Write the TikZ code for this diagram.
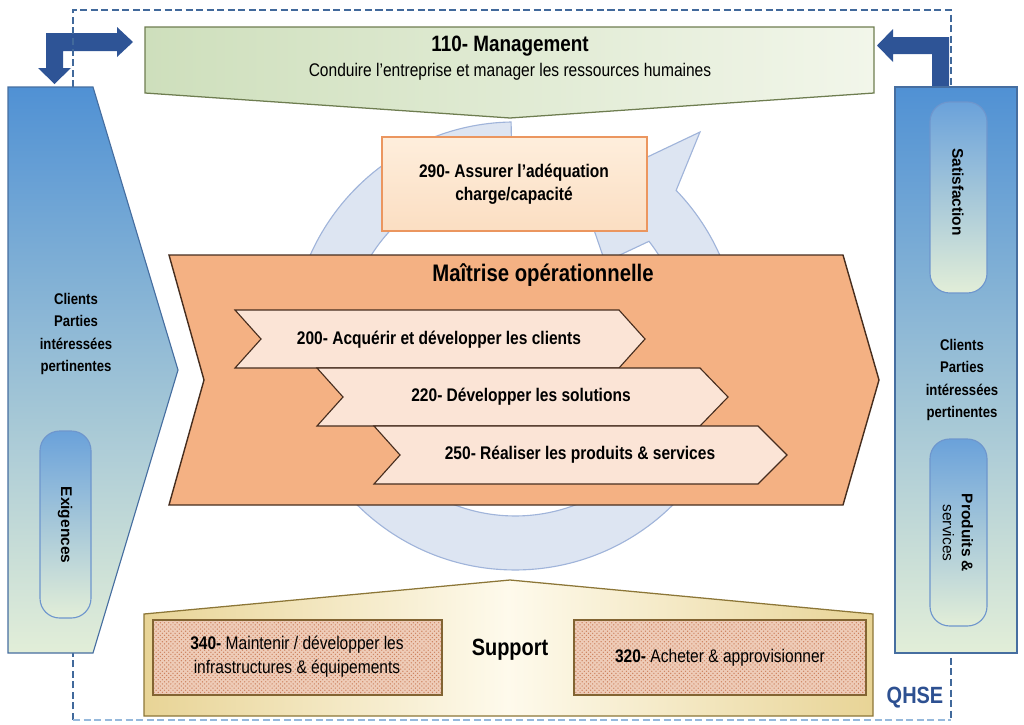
\documentclass[tikz,border=0pt]{standalone}
\usepackage{fontspec}
\setmainfont{Liberation Sans}[FakeStretch=0.85]
\newfontfamily\capsfont{Liberation Sans}
\usetikzlibrary{patterns}

\definecolor{arrowblue}{RGB}{46,84,150}
\definecolor{framedark}{RGB}{65,105,155}
\definecolor{framelight}{RGB}{150,185,220}
\definecolor{panelblue}{RGB}{80,145,212}
\definecolor{panelpale}{RGB}{226,238,216}
\definecolor{panelline}{RGB}{70,110,160}
\definecolor{capline}{RGB}{110,150,205}
\definecolor{mgmtdark}{RGB}{206,223,188}
\definecolor{mgmtlight}{RGB}{242,246,234}
\definecolor{mgmtline}{RGB}{110,125,80}
\definecolor{ringfill}{RGB}{221,229,242}
\definecolor{ringline}{RGB}{160,180,218}
\definecolor{opfill}{RGB}{244,177,131}
\definecolor{opline}{RGB}{70,45,30}
\definecolor{stepfill}{RGB}{251,228,214}
\definecolor{chargetop}{RGB}{254,238,220}
\definecolor{chargebot}{RGB}{251,222,194}
\definecolor{chargeline}{RGB}{235,150,95}
\definecolor{supdark}{RGB}{232,212,150}
\definecolor{suplight}{RGB}{254,250,236}
\definecolor{supline}{RGB}{140,118,55}
\definecolor{dotfill}{RGB}{238,204,184}
\definecolor{dotcolor}{RGB}{204,128,92}
\definecolor{dotline}{RGB}{130,100,50}
\definecolor{qhseblue}{RGB}{45,80,145}

\tikzset{
  blockarrow/.style={fill=arrowblue},
  framedash/.style={dash pattern=on 5pt off 2.5pt, line width=1.1pt},
  ringarrow/.style={fill=ringfill, draw=ringline, line width=0.8pt},
  mgmt/.style={left color=mgmtdark, right color=mgmtlight, draw=mgmtline, line width=0.9pt},
  panel/.style={top color=panelblue, bottom color=panelpale, draw=panelline, line width=0.8pt},
  capsule/.style={top color=panelblue!85!white, bottom color=panelpale, draw=capline,
    line width=0.8pt, rounded corners=14pt},
  chargebox/.style={top color=chargetop, bottom color=chargebot, draw=chargeline, line width=0.8pt},
  opchevron/.style={fill=opfill, draw=opline, line width=1pt},
  stepchevron/.style={fill=stepfill, draw=opline, line width=0.8pt},
  support/.style={left color=supdark, right color=supdark, middle color=suplight,
    draw=supline, line width=0.9pt},
  dotbox/.style={preaction={fill=dotfill}, pattern=crosshatch dots, pattern color=dotcolor,
    draw=dotline, line width=0.8pt},
  mgmttitle/.style={font=\bfseries\fontsize{15.8}{18}\selectfont},
  mgmtsub/.style={font=\fontsize{13}{15}\selectfont},
  optitle/.style={font=\bfseries\fontsize{17}{20}\selectfont},
  steptext/.style={font=\bfseries\fontsize{13}{15}\selectfont},
  chargetext/.style={font=\bfseries\fontsize{13}{16.3}\selectfont, align=center},
  paneltext/.style={font=\bfseries\fontsize{11}{16}\selectfont, align=center},
  captext/.style={font=\capsfont\bfseries\fontsize{11}{13.5}\selectfont, rotate=-90, align=center},
  suptext/.style={font=\fontsize{13}{17}\selectfont, align=center},
  suptitle/.style={font=\bfseries\fontsize{16.7}{19}\selectfont}
}

\begin{document}
\begin{tikzpicture}[x=0.025cm, y=-0.025cm]
    \useasboundingbox (0,0) rectangle (1024,724);

    %% corner arrows
    \fill[blockarrow] (46,33) -- (117,33) -- (117,27) -- (133,42) -- (117,57) -- (117,51)
        -- (63,51) -- (63,68) -- (71,68) -- (54.5,84) -- (38,68) -- (46,68) -- cycle;
    \fill[blockarrow] (949,88) -- (949,37) -- (893,37) -- (893,29) -- (877,45.5)
        -- (893,62) -- (893,54) -- (932,54) -- (932,88) -- cycle;

    %% QHSE frame
    \draw[framedash, draw=framedark] (73,720) -- (73,10) -- (951,10) -- (951,720);
    \draw[framedash, draw=framelight] (73,720) -- (951,720);

    %% cycle arrow
    \draw[ringarrow] (511.1,122) arc[start angle=-91, end angle=-404, radius=224]
        -- (700,132) -- (580,189) -- (605,262) -- (649,241.3)
        arc[start angle=-398, end angle=-91, radius=170] -- cycle;

    %% management
    \draw[mgmt] (145,27) -- (874,27) -- (874,93) -- (510,118) -- (145,93) -- cycle;

    %% side panels
    \draw[panel] (8,87) -- (93,87) -- (178,370) -- (93,653) -- (8,653) -- cycle;
    \draw[panel] (895,87) rectangle (1017,653);
    \draw[capsule] (40,431) rectangle (91,618);
    \draw[capsule] (930,102) rectangle (987,293);
    \draw[capsule] (930,439) rectangle (987,626);

    %% load / capacity
    \draw[chargebox] (382,137) rectangle (647,231);

    %% operational control
    \draw[opchevron] (169,255) -- (843,255) -- (879,380) -- (843,505) -- (169,505) -- (204,380) -- cycle;
    \draw[stepchevron] (235,310) -- (619,310) -- (645,339) -- (619,368) -- (235,368) -- (261,339) -- cycle;
    \draw[stepchevron] (317,368) -- (700,368) -- (728,397) -- (700,426) -- (317,426) -- (343,397) -- cycle;
    \draw[stepchevron] (374,426) -- (758,426) -- (787,455) -- (758,484) -- (374,484) -- (400,455) -- cycle;

    %% support
    \draw[support] (144,614) -- (510,580) -- (873,614) -- (873,716) -- (144,716) -- cycle;
    \draw[dotbox] (153,620) rectangle (442,695);
    \draw[dotbox] (574,620) rectangle (866,695);

    %% labels
    \node[mgmttitle] (mgmt) at (510,46) {110- Management};
    \node[mgmtsub] (mgmtsub) at (510,72) {Conduire l’entreprise et manager les ressources humaines};
    \node[paneltext] (inclients) at (76,334) {Clients\\Parties\\intéressées\\pertinentes};
    \node[paneltext] (outclients) at (962,380) {Clients\\Parties\\intéressées\\pertinentes};
    \node[captext] (exig) at (65,525) {Exigences};
    \node[captext] (satis) at (958,192) {Satisfaction};
    \node[captext] (prod) at (958,533) {Produits \&\\\mdseries services};
    \node[chargetext] (charge) at (514,184) {290- Assurer l’adéquation\\charge/capacité};
    \node[optitle] (optitle) at (543,275) {Maîtrise opérationnelle};
    \node[steptext] (s200) at (439,340) {200- Acquérir et développer les clients};
    \node[steptext] (s220) at (521,397) {220- Développer les solutions};
    \node[steptext] (s250) at (580,455) {250- Réaliser les produits \& services};
    \node[suptitle] (support) at (510,650) {Support};
    \node[suptext] (s340) at (297,657) {\textbf{340-} Maintenir / développer les\\infrastructures \& équipements};
    \node[suptext] (s320) at (720,658) {\textbf{320-} Acheter \& approvisionner};
    \node[suptitle, text=qhseblue] (qhse) at (915,698) {QHSE};
\end{tikzpicture}
\end{document}
